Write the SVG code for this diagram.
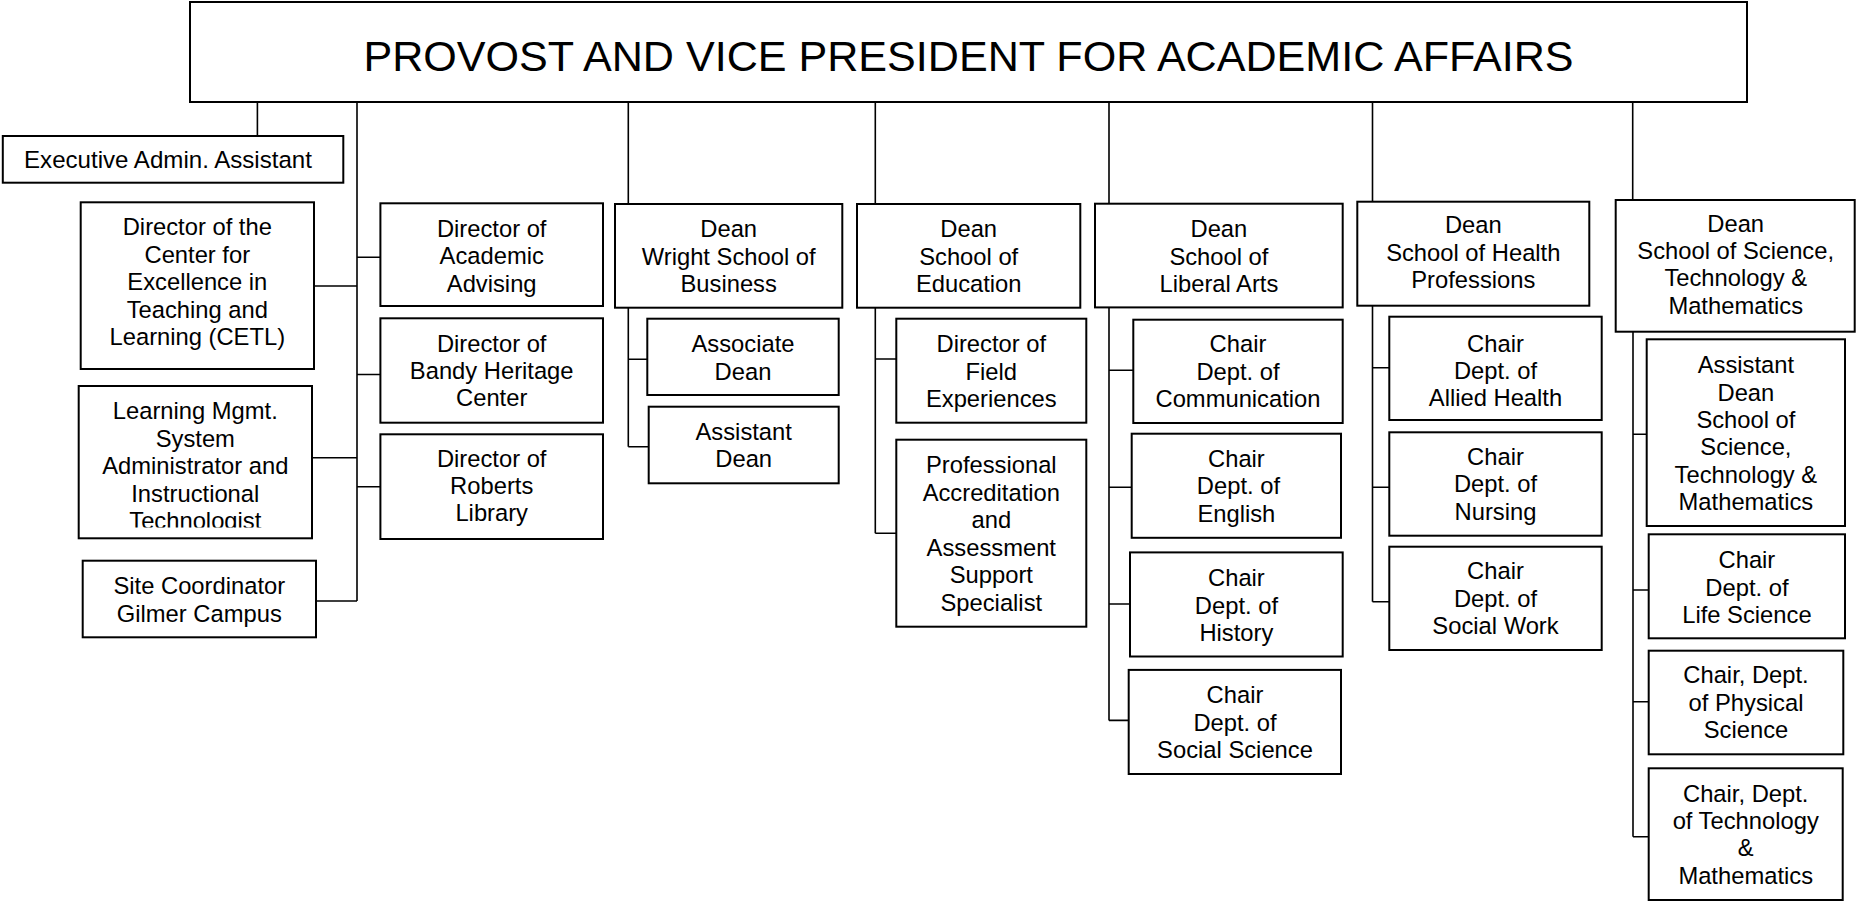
<svg xmlns="http://www.w3.org/2000/svg" width="1856" height="902" viewBox="0 0 1856 902">
<defs>
<style>
.box{fill:#fff;stroke:#000;stroke-width:2}
.ln{fill:none;stroke:#000;stroke-width:1.6}
text{font-family:"Liberation Sans",Arial,sans-serif;font-size:23.75px;fill:#000;text-anchor:middle}
.title{font-size:43.1px}
.wide{font-size:24.1px}
</style>
<clipPath id="lmsclip"><rect x="79" y="386" width="233" height="141.5"/></clipPath>
</defs>
<rect width="1856" height="902" fill="#fff"/>
<g id="connectors">
<path class="ln" d="M257.4 102V136M357 102V601M628.3 102V204M875.3 102V204M1109 102V203.7M1372.5 102V201.7M1632.7 102V200"/>
<path class="ln" d="M314 286H357M312 457.7H357M316 601H357M357 257.3H380.4M357 374.5H380.4M357 486.8H380.4"/>
<path class="ln" d="M628.3 307.7V446.7M628.3 359.3H647.3M628.3 446.7H648.7"/>
<path class="ln" d="M875.3 307.7V533.3M875.3 359H896.3M875.3 533.3H896.3"/>
<path class="ln" d="M1109 307.4V720.4M1109 370.2H1133.3M1109 487.3H1131.7M1109 604H1130M1109 720.4H1128.7"/>
<path class="ln" d="M1372.5 305.7V601.7M1372.5 367.7H1389.3M1372.5 487.3H1389.3M1372.5 601.7H1389.3"/>
<path class="ln" d="M1633 331.7V836.7M1633 434.3H1646.7M1633 590H1648.7M1633 701.7H1648.7M1633 836.7H1648.7"/>
</g>
<g id="provost"><rect class="box" x="190" y="2" width="1557" height="100"/><text class="title" x="968.5" y="70.5">PROVOST AND VICE PRESIDENT FOR ACADEMIC AFFAIRS</text></g>
<g id="exec"><rect class="box" x="2.8" y="136" width="340.5" height="46.7"/><text class="wide" x="168" y="168.3">Executive Admin. Assistant</text></g>
<g id="cetl"><rect class="box" x="80.7" y="202.3" width="233.3" height="166.7"/><text><tspan x="197.3" y="235">Director of the</tspan><tspan x="197.3" y="262.7">Center for</tspan><tspan x="197.3" y="290">Excellence in</tspan><tspan x="197.3" y="317.7">Teaching and</tspan><tspan x="197.3" y="345">Learning (CETL)</tspan></text></g>
<g id="lms"><rect class="box" x="78.7" y="386" width="233.3" height="152.3"/><text clip-path="url(#lmsclip)"><tspan x="195.3" y="419.3">Learning Mgmt.</tspan><tspan x="195.3" y="446.7">System</tspan><tspan x="195.3" y="474">Administrator and</tspan><tspan x="195.3" y="501.7">Instructional</tspan><tspan x="195.3" y="529">Technologist</tspan></text></g>
<g id="site"><rect class="box" x="82.7" y="560.7" width="233.3" height="76.6"/><text><tspan x="199.3" y="594">Site Coordinator</tspan><tspan x="199.3" y="621.7">Gilmer Campus</tspan></text></g>
<g id="advising"><rect class="box" x="380.4" y="203.3" width="222.6" height="102.7"/><text><tspan x="491.7" y="237">Director of</tspan><tspan x="491.7" y="264.3">Academic</tspan><tspan x="491.7" y="291.6">Advising</tspan></text></g>
<g id="bandy"><rect class="box" x="380.4" y="318.3" width="222.6" height="104.4"/><text><tspan x="491.7" y="351.7">Director of</tspan><tspan x="491.7" y="379">Bandy Heritage</tspan><tspan x="491.7" y="406.3">Center</tspan></text></g>
<g id="roberts"><rect class="box" x="380.4" y="434.3" width="222.6" height="104.7"/><text><tspan x="491.7" y="466.7">Director of</tspan><tspan x="491.7" y="494">Roberts</tspan><tspan x="491.7" y="521.3">Library</tspan></text></g>
<g id="business"><rect class="box" x="615" y="204" width="227.3" height="103.7"/><text><tspan x="728.7" y="237.3">Dean</tspan><tspan x="728.7" y="264.6">Wright School of</tspan><tspan x="728.7" y="291.9">Business</tspan></text></g>
<g id="assoc-dean"><rect class="box" x="647.3" y="318.7" width="191.4" height="76.3"/><text><tspan x="743" y="352.3">Associate</tspan><tspan x="743" y="379.6">Dean</tspan></text></g>
<g id="asst-dean-bus"><rect class="box" x="648.7" y="406.7" width="190" height="76.6"/><text><tspan x="743.7" y="440">Assistant</tspan><tspan x="743.7" y="467.3">Dean</tspan></text></g>
<g id="education"><rect class="box" x="857" y="204" width="223.3" height="103.7"/><text><tspan x="968.7" y="237.3">Dean</tspan><tspan x="968.7" y="264.6">School of</tspan><tspan x="968.7" y="291.9">Education</tspan></text></g>
<g id="field"><rect class="box" x="896.3" y="318.7" width="190" height="104"/><text><tspan x="991.3" y="352.3">Director of</tspan><tspan x="991.3" y="379.6">Field</tspan><tspan x="991.3" y="406.9">Experiences</tspan></text></g>
<g id="accreditation"><rect class="box" x="896.3" y="439.7" width="190" height="187"/><text><tspan x="991.3" y="473.3">Professional</tspan><tspan x="991.3" y="500.7">Accreditation</tspan><tspan x="991.3" y="528.3">and</tspan><tspan x="991.3" y="555.7">Assessment</tspan><tspan x="991.3" y="583">Support</tspan><tspan x="991.3" y="610.5">Specialist</tspan></text></g>
<g id="liberal-arts"><rect class="box" x="1095" y="203.7" width="247.7" height="103.7"/><text><tspan x="1218.9" y="237.4">Dean</tspan><tspan x="1218.9" y="264.7">School of</tspan><tspan x="1218.9" y="292">Liberal Arts</tspan></text></g>
<g id="communication"><rect class="box" x="1133.3" y="319.7" width="209.4" height="103.3"/><text><tspan x="1238" y="352.2">Chair</tspan><tspan x="1238" y="379.6">Dept. of</tspan><tspan x="1238" y="407">Communication</tspan></text></g>
<g id="english"><rect class="box" x="1131.7" y="433.7" width="209.3" height="104.1"/><text><tspan x="1236.4" y="467">Chair</tspan><tspan x="1238.4" y="494.4">Dept. of</tspan><tspan x="1236.4" y="521.8">English</tspan></text></g>
<g id="history"><rect class="box" x="1130" y="552.4" width="212.7" height="104.1"/><text><tspan x="1236.4" y="586.4">Chair</tspan><tspan x="1236.4" y="613.7">Dept. of</tspan><tspan x="1236.4" y="641">History</tspan></text></g>
<g id="social-science"><rect class="box" x="1128.7" y="669.9" width="212.3" height="104.1"/><text><tspan x="1235" y="703.2">Chair</tspan><tspan x="1235" y="730.5">Dept. of</tspan><tspan x="1235" y="757.8">Social Science</tspan></text></g>
<g id="health"><rect class="box" x="1357.3" y="201.7" width="232" height="104"/><text><tspan x="1473.3" y="233.3">Dean</tspan><tspan x="1473.3" y="260.6">School of Health</tspan><tspan x="1473.3" y="287.9">Professions</tspan></text></g>
<g id="allied"><rect class="box" x="1389.3" y="316.7" width="212.4" height="103.3"/><text><tspan x="1495.5" y="351.7">Chair</tspan><tspan x="1495.5" y="379">Dept. of</tspan><tspan x="1495.5" y="406.3">Allied Health</tspan></text></g>
<g id="nursing"><rect class="box" x="1389.3" y="432.3" width="212.4" height="103.4"/><text><tspan x="1495.5" y="465">Chair</tspan><tspan x="1495.5" y="492.3">Dept. of</tspan><tspan x="1495.5" y="519.6">Nursing</tspan></text></g>
<g id="social-work"><rect class="box" x="1389.3" y="546.7" width="212.4" height="103.3"/><text><tspan x="1495.5" y="579.3">Chair</tspan><tspan x="1495.5" y="606.6">Dept. of</tspan><tspan x="1495.5" y="633.9">Social Work</tspan></text></g>
<g id="science"><rect class="box" x="1615.7" y="200" width="239" height="131.7"/><text><tspan x="1735.7" y="231.7">Dean</tspan><tspan x="1735.7" y="259">School of Science,</tspan><tspan x="1735.7" y="286.3">Technology &amp;</tspan><tspan x="1735.7" y="313.6">Mathematics</tspan></text></g>
<g id="asst-dean-stm"><rect class="box" x="1646.7" y="339.3" width="198.3" height="186.7"/><text><tspan x="1745.9" y="373.3">Assistant</tspan><tspan x="1745.9" y="400.6">Dean</tspan><tspan x="1745.9" y="427.9">School of</tspan><tspan x="1745.9" y="455.2">Science,</tspan><tspan x="1745.9" y="482.5">Technology &amp;</tspan><tspan x="1745.9" y="509.8">Mathematics</tspan></text></g>
<g id="life-science"><rect class="box" x="1648.7" y="534.3" width="196.3" height="104"/><text><tspan x="1746.9" y="568.3">Chair</tspan><tspan x="1746.9" y="595.6">Dept. of</tspan><tspan x="1746.9" y="622.9">Life Science</tspan></text></g>
<g id="physical-science"><rect class="box" x="1648.7" y="650.7" width="194.6" height="103.6"/><text><tspan x="1746" y="683.3">Chair, Dept.</tspan><tspan x="1746" y="710.6">of Physical</tspan><tspan x="1746" y="737.9">Science</tspan></text></g>
<g id="technology-math"><rect class="box" x="1648.7" y="768.3" width="194" height="131.7"/><text><tspan x="1745.7" y="801.7">Chair, Dept.</tspan><tspan x="1745.7" y="829">of Technology</tspan><tspan x="1745.7" y="856.3">&amp;</tspan><tspan x="1745.7" y="883.6">Mathematics</tspan></text></g>
</svg>
